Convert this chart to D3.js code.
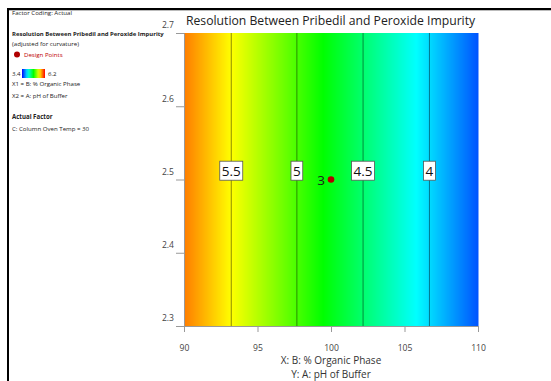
<!DOCTYPE html>
<html>
<head>
<meta charset="utf-8">
<script src="https://cdn.jsdelivr.net/npm/d3@7"></script>
<style>
  body { margin: 0; background: #fff; }
  svg { display: block; font-family: "Open Sans", "Noto Sans", sans-serif; }
</style>
</head>
<body>
<div id="chart"></div>
<script>
// response read along X (constant in Y)
const xSamples = [90, 95, 100, 105, 110];
const ySamples = [5.86, 5.30, 4.74, 4.19, 3.63];
const contourLevels = [5.5, 5, 4.5, 4];
const designPoints = [{ x: 100, y: 2.5, n: 3 }];
const xTicks = [90, 95, 100, 105, 110];
const yTicks = [2.3, 2.4, 2.5, 2.6, 2.7];
const colorDomain = [3.4, 6.2];

const svgWidth = 551, svgHeight = 381;
const margin = { top: 33, left: 184, right: 73, bottom: 55 };
const width = svgWidth - margin.left - margin.right;
const height = svgHeight - margin.top - margin.bottom;

const svg = d3.select("#chart").append("svg")
  .attr("width", svgWidth).attr("height", svgHeight);

// frame
svg.append("rect").attr("x", 7).attr("y", 8).attr("width", svgWidth).attr("height", 2).attr("fill", "#000");
svg.append("rect").attr("x", 7).attr("y", 10).attr("width", svgWidth).attr("height", 1).attr("fill", "#bbb");
svg.append("rect").attr("x", 7).attr("y", 8).attr("width", 2).attr("height", svgHeight).attr("fill", "#000");

const x = d3.scaleLinear().domain([90, 110]).range([0, width]);
const y = d3.scaleLinear().domain([2.3, 2.7]).range([height, 0]);

const response = d3.scaleLinear().domain(xSamples).range(ySamples);
const levelToX = d3.scaleLinear().domain(ySamples.slice().reverse()).range(xSamples.slice().reverse());

const lo = colorDomain[0], hi = colorDomain[1], st = (hi - lo) / 4;
const color = d3.scaleLinear()
  .domain([lo, lo + st, lo + 2 * st, lo + 3 * st, hi])
  .range(["#0000ff", "#00ffff", "#00ff00", "#ffff00", "#ff0000"]);

const chart = svg.append("g").attr("transform", `translate(${margin.left},${margin.top})`);

// surface (one column per pixel)
const cols = d3.range(0, width);
chart.append("g").selectAll("rect").data(cols).enter().append("rect")
  .attr("x", d => d).attr("y", 0).attr("width", 1.5).attr("height", height)
  .attr("fill", d => color(response(x.invert(d + 0.5))));

// contour lines
chart.append("g").selectAll("line").data(contourLevels).enter().append("line")
  .attr("x1", d => x(levelToX(d))).attr("x2", d => x(levelToX(d)))
  .attr("y1", 0).attr("y2", height)
  .attr("stroke", "#000").attr("stroke-opacity", 0.45).attr("stroke-width", 1);

// axes
const xAxis = chart.append("g").attr("transform", `translate(0,${height})`)
  .call(d3.axisBottom(x).tickValues(xTicks).tickSize(6).tickSizeOuter(0));
const yAxis = chart.append("g")
  .call(d3.axisLeft(y).tickValues(yTicks).tickFormat(d3.format(".1f")).tickSize(8).tickPadding(2).tickSizeOuter(0));
[xAxis, yAxis].forEach(a => {
  a.select(".domain").attr("stroke", "#999");
  a.selectAll(".tick line").attr("stroke", "#999");
  a.selectAll("text").attr("fill", "#444").style("font-size", "8.6px").style("font-family", "Open Sans, sans-serif");
});
xAxis.selectAll("text").attr("dy", "1.9em");
yAxis.selectAll("text").attr("dy", "-0.6em");

// contour labels
const labels = chart.append("g").selectAll("g").data(contourLevels).enter().append("g")
  .attr("transform", d => `translate(${x(levelToX(d))},${y(2.512)})`);
labels.append("text").text(d => d)
  .attr("text-anchor", "middle").attr("dy", "0.36em")
  .style("font-size", "13.5px").attr("fill", "#111");
labels.each(function () {
  const g = d3.select(this);
  const b = g.select("text").node().getBBox();
  g.insert("rect", "text")
    .attr("x", b.x - 2).attr("y", -9.5).attr("width", b.width + 4).attr("height", 19)
    .attr("fill", "#fff").attr("stroke", "#555").attr("stroke-width", 0.8);
});

// design points
chart.append("g").selectAll("circle").data(designPoints).enter().append("circle")
  .attr("cx", d => x(d.x)).attr("cy", d => y(d.y)).attr("r", 3.3).attr("fill", "#b00000");
chart.append("g").selectAll("text").data(designPoints).enter().append("text")
  .attr("x", d => x(d.x) - 6).attr("y", d => y(d.y)).attr("dy", "0.4em")
  .attr("text-anchor", "end").style("font-size", "13.5px").attr("fill", "#1a2a1a")
  .text(d => d.n);

// title and axis titles
svg.append("text").attr("x", margin.left + 2).attr("y", 25)
  .style("font-size", "12.2px").attr("fill", "#222")
  .text("Resolution Between Pribedil and Peroxide Impurity");
svg.append("text").attr("x", margin.left + width / 2).attr("y", 364).attr("text-anchor", "middle")
  .style("font-size", "10px").attr("fill", "#333").text("X: B: % Organic Phase");
svg.append("text").attr("x", margin.left + width / 2).attr("y", 377.5).attr("text-anchor", "middle")
  .style("font-size", "10px").attr("fill", "#333").text("Y: A: pH of Buffer");

// legend block
const leg = svg.append("g").style("font-size", "6.1px").attr("fill", "#222");
leg.append("text").attr("x", 12).attr("y", 15).text("Factor Coding: Actual");
leg.append("text").attr("x", 12).attr("y", 35.5).attr("font-weight", "bold").style("font-size", "5.95px").text("Resolution Between Pribedil and Peroxide Impurity");
leg.append("text").attr("x", 12).attr("y", 45.5).text("(adjusted for curvature)");
leg.append("circle").attr("cx", 17).attr("cy", 54.5).attr("r", 3).attr("fill", "#b00000");
leg.append("text").attr("x", 24).attr("y", 56.5).attr("fill", "#c00000").text("Design Points");

const grad = svg.append("defs").append("linearGradient").attr("id", "cbar");
grad.selectAll("stop").data(d3.range(0, 1.01, 0.1)).enter().append("stop")
  .attr("offset", d => d).attr("stop-color", d => color(lo + d * (hi - lo)));
leg.append("rect").attr("x", 22).attr("y", 69).attr("width", 23).attr("height", 9).attr("fill", "url(#cbar)");
leg.append("text").attr("x", 12).attr("y", 75.5).text(colorDomain[0]);
leg.append("text").attr("x", 48).attr("y", 75.5).text(colorDomain[1]);
leg.append("text").attr("x", 12).attr("y", 86).text("X1 = B: % Organic Phase");
leg.append("text").attr("x", 12).attr("y", 97.5).text("X2 = A: pH of Buffer");
leg.append("text").attr("x", 12).attr("y", 119).attr("font-weight", "bold").text("Actual Factor");
leg.append("text").attr("x", 12).attr("y", 130.5).text("C: Column Oven Temp = 30");
</script>
</body>
</html>
